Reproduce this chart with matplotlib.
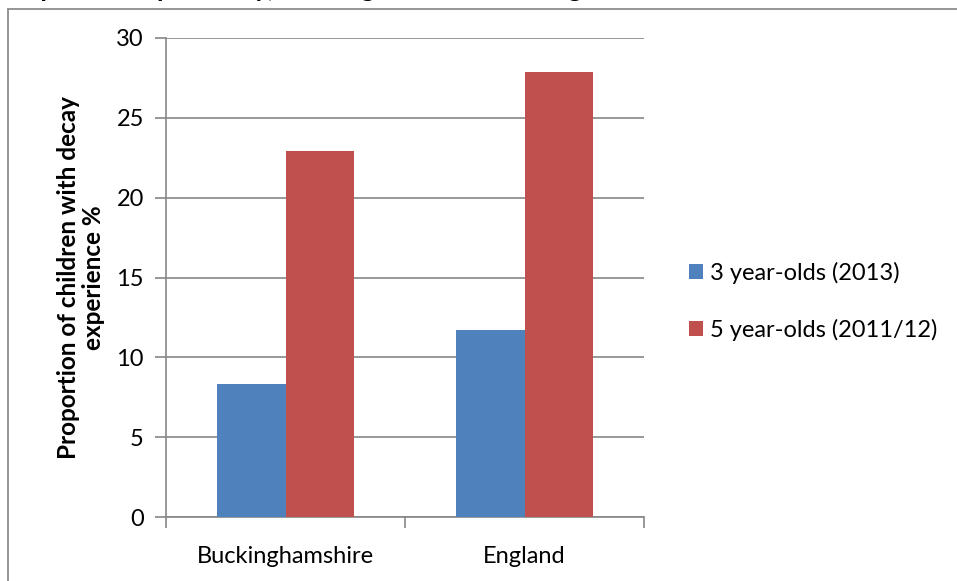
import numpy as np
import matplotlib.pyplot as plt
from matplotlib.patches import Rectangle

areas = ["Buckinghamshire", "England"]
series = ["3 year-olds (2013)", "5 year-olds (2011/12)"]
age3 = [8.3, 11.7]
age5 = [22.9, 27.9]
colors = ["#4f81bd", "#c0504d"]
yticks = [0, 5, 10, 15, 20, 25, 30]

plt.rcParams['font.family'] = ['Lato', 'DejaVu Sans']

W, H = 957, 581
fig = plt.figure(figsize=(W / 100, H / 100), dpi=100)

# chart frame, runs off the right and bottom edges
fig.patches.append(Rectangle((8 / W, -0.1), 1.1, 1 - 9 / H + 0.1, transform=fig.transFigure,
                             fill=False, edgecolor="#8c8c8c", linewidth=1.3))

# title, mostly cut off at the top
fig.text(-2 / W, 1 + 3 / H, "Graph 2: Temple decay, Buckinghamshire and England",
         fontsize=19, fontweight="bold", ha="left", va="baseline")

ax = fig.add_axes([166 / W, 1 - 517 / H, (644 - 166) / W, (517 - 38) / H])

x = np.arange(len(areas))
w = 0.286
ax.bar(x - w / 2, age3, w, color=colors[0], label=series[0], zorder=3)
ax.bar(x + w / 2, age5, w, color=colors[1], label=series[1], zorder=3)

ax.set_xlim(-0.5, 1.5)
ax.set_ylim(0, 30)
ax.set_yticks(yticks)
ax.set_xticks(x)
ax.set_xticklabels(areas)
ax.set_xticks([-0.5, 0.5, 1.5], minor=True)
ax.yaxis.grid(True, color="#868686", linewidth=1.2, zorder=0)

for s in ["top", "right"]:
    ax.spines[s].set_visible(False)
for s in ["left", "bottom"]:
    ax.spines[s].set_color("#868686")
    ax.spines[s].set_linewidth(1.2)

ax.tick_params(axis="y", length=8, width=1.2, color="#868686", labelsize=17, pad=8)
ax.tick_params(axis="x", which="major", length=0, labelsize=17, pad=21)
ax.tick_params(axis="x", which="minor", length=8, width=1.2, color="#868686")

ax.set_ylabel("Proportion of children with decay\nexperience %", fontsize=17.5,
              fontweight="bold", labelpad=8, linespacing=1.1)

ax.legend(loc="center left", bbox_to_anchor=(1.05, 0.45), frameon=False, fontsize=17,
          handlelength=0.6, handleheight=0.6, handletextpad=0.3, labelspacing=1.5)

fig.savefig("out.png", dpi=100)
